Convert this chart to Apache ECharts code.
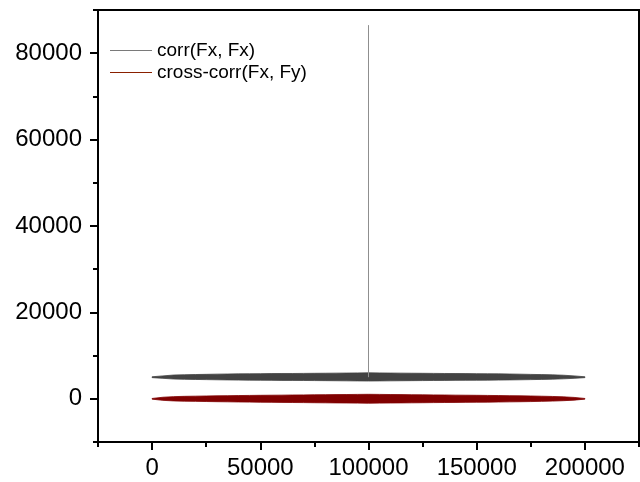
<!DOCTYPE html>
<html>
<head>
<meta charset="utf-8">
<script src="https://cdn.jsdelivr.net/npm/echarts@6/dist/echarts.min.js"></script>
<style>
    html, body { margin: 0; padding: 0; background: #fff; }
    #chart { width: 640px; height: 482px; }
</style>
</head>
<body>
<div id="chart"></div>
<script>
    var lags = [0, 5000, 10000, 15000, 20000, 25000, 30000, 35000, 40000, 45000,
        50000, 55000, 60000, 65000, 70000, 75000, 80000, 85000, 90000, 95000,
        100000, 105000, 110000, 115000, 120000, 125000, 130000, 135000, 140000, 145000,
        150000, 155000, 160000, 165000, 170000, 175000, 180000, 185000, 190000, 195000, 200000];

    // corr(Fx, Fx): upper / lower edge of the noisy band
    var corrUpper = [5100, 5300, 5500, 5560, 5620, 5660, 5710, 5740, 5770, 5790,
        5810, 5840, 5860, 5860, 5880, 5900, 5920, 5940, 5960, 5990,
        6010, 5990, 5960, 5940, 5920, 5900, 5880, 5860, 5850, 5830,
        5810, 5790, 5770, 5740, 5700, 5650, 5600, 5540, 5460, 5300, 5100];
    var corrLower = [4900, 4740, 4580, 4520, 4480, 4440, 4400, 4370, 4340, 4320,
        4300, 4280, 4260, 4260, 4240, 4220, 4200, 4180, 4160, 4140,
        4120, 4140, 4160, 4180, 4200, 4220, 4240, 4260, 4270, 4290,
        4300, 4320, 4340, 4370, 4400, 4440, 4490, 4550, 4620, 4740, 4900];

    // the zero-lag peak of the autocorrelation
    var spikeLag = [100000];
    var spikeBase = [5000];
    var spikeTop = [86500];

    // cross-corr(Fx, Fy)
    var crossUpper = [80, 360, 500, 570, 610, 650, 690, 720, 750, 780,
        810, 830, 850, 880, 900, 930, 950, 970, 990, 1020,
        1040, 1020, 990, 970, 940, 920, 900, 880, 850, 830,
        810, 780, 750, 720, 690, 650, 600, 540, 450, 320, 80];
    var crossLower = [-80, -360, -490, -550, -590, -630, -670, -700, -730, -760,
        -790, -810, -830, -860, -880, -910, -930, -950, -970, -1000,
        -1020, -1000, -970, -950, -930, -910, -880, -860, -840, -820,
        -790, -770, -740, -710, -680, -640, -590, -530, -440, -310, -80];

    var seriesNames = ['corr(Fx, Fx)', 'cross-corr(Fx, Fy)'];

    var FONT = 'Arial, "Liberation Sans", sans-serif';

    function bandData(upper, lower) {
        return lags.map(function (x, i) {
            return [x, lower[i], upper[i]];
        });
    }

    // whole band drawn as one polygon (upper edge forward, lower edge back)
    function bandRenderer(upper, lower, fill) {
        return function (params, api) {
            if (params.dataIndex !== 0) return null;
            var pts = [];
            for (var i = 0; i < lags.length; i++) pts.push(api.coord([lags[i], upper[i]]));
            for (var j = lags.length - 1; j >= 0; j--) pts.push(api.coord([lags[j], lower[j]]));
            return {
                type: 'polygon',
                shape: {points: pts},
                style: {fill: fill, stroke: fill, lineWidth: 0.8}
            };
        };
    }

    var axisLineStyle = {color: '#000', width: 2};
    var labelStyle = {fontSize: 24, color: '#000', fontFamily: FONT};

    var myChart = echarts.init(document.getElementById('chart'));
    var option = {
        animation: false,
        backgroundColor: '#fff',
        grid: {
            left: 98, right: 1, top: 10, bottom: 40,
            show: true, borderColor: '#000', borderWidth: 2
        },
        legend: {
            orient: 'vertical',
            left: 110,
            top: 40,
            padding: 0,
            itemWidth: 42,
            itemHeight: 1,
            itemGap: 1,
            icon: 'rect',
            selectedMode: false,
            textStyle: {fontSize: 19, color: '#000', fontFamily: FONT, lineHeight: 21},
            data: seriesNames
        },
        xAxis: [{
            type: 'value',
            min: -25000, max: 225000,
            splitNumber: 5,
            position: 'bottom',
            axisLine: {onZero: false, lineStyle: axisLineStyle},
            axisTick: {length: 8, lineStyle: axisLineStyle},
            axisLabel: Object.assign({
                margin: 14, showMinLabel: false, showMaxLabel: false,
                formatter: function (v) { return v % 50000 === 0 ? String(v) : ''; }
            }, labelStyle),
            splitLine: {show: false}
        }, {
            // minor ticks halfway between the labelled ones
            type: 'value',
            min: -25000, max: 225000,
            interval: 50000,
            position: 'bottom',
            axisLine: {show: false, onZero: false},
            axisTick: {length: 5, lineStyle: axisLineStyle},
            axisLabel: {show: false},
            splitLine: {show: false}
        }],
        yAxis: [{
            type: 'value',
            min: -10000, max: 90000,
            splitNumber: 5,
            position: 'left',
            axisLine: {show: true, onZero: false, lineStyle: axisLineStyle},
            axisTick: {show: true, length: 8, lineStyle: axisLineStyle},
            axisLabel: Object.assign({
                margin: 16, showMinLabel: false, showMaxLabel: false,
                formatter: function (v) { return v % 20000 === 0 ? String(v) : ''; }
            }, labelStyle),
            splitLine: {show: false}
        }, {
            type: 'value',
            min: -10000, max: 90000,
            interval: 20000,
            position: 'left',
            axisLine: {show: false, onZero: false},
            axisTick: {show: true, length: 5, lineStyle: axisLineStyle},
            axisLabel: {show: false},
            splitLine: {show: false}
        }],
        series: [{
            name: seriesNames[0],
            type: 'custom',
            xAxisIndex: 0, yAxisIndex: 0,
            itemStyle: {color: '#7a7a7a'},
            encode: {x: 0, y: [1, 2]},
            data: bandData(corrUpper, corrLower),
            renderItem: bandRenderer(corrUpper, corrLower, '#434343'),
            z: 2
        }, {
            name: seriesNames[0],
            type: 'line',
            xAxisIndex: 0, yAxisIndex: 0,
            showSymbol: false,
            itemStyle: {color: '#7a7a7a'},
            lineStyle: {color: '#8f8f8f', width: 1},
            data: [[spikeLag[0], spikeBase[0]], [spikeLag[0], spikeTop[0]]],
            z: 3
        }, {
            name: seriesNames[1],
            type: 'custom',
            xAxisIndex: 0, yAxisIndex: 0,
            itemStyle: {color: '#8a2000'},
            encode: {x: 0, y: [1, 2]},
            data: bandData(crossUpper, crossLower),
            renderItem: bandRenderer(crossUpper, crossLower, '#800000'),
            z: 2
        }]
    };
    myChart.setOption(option);
</script>
</body>
</html>
